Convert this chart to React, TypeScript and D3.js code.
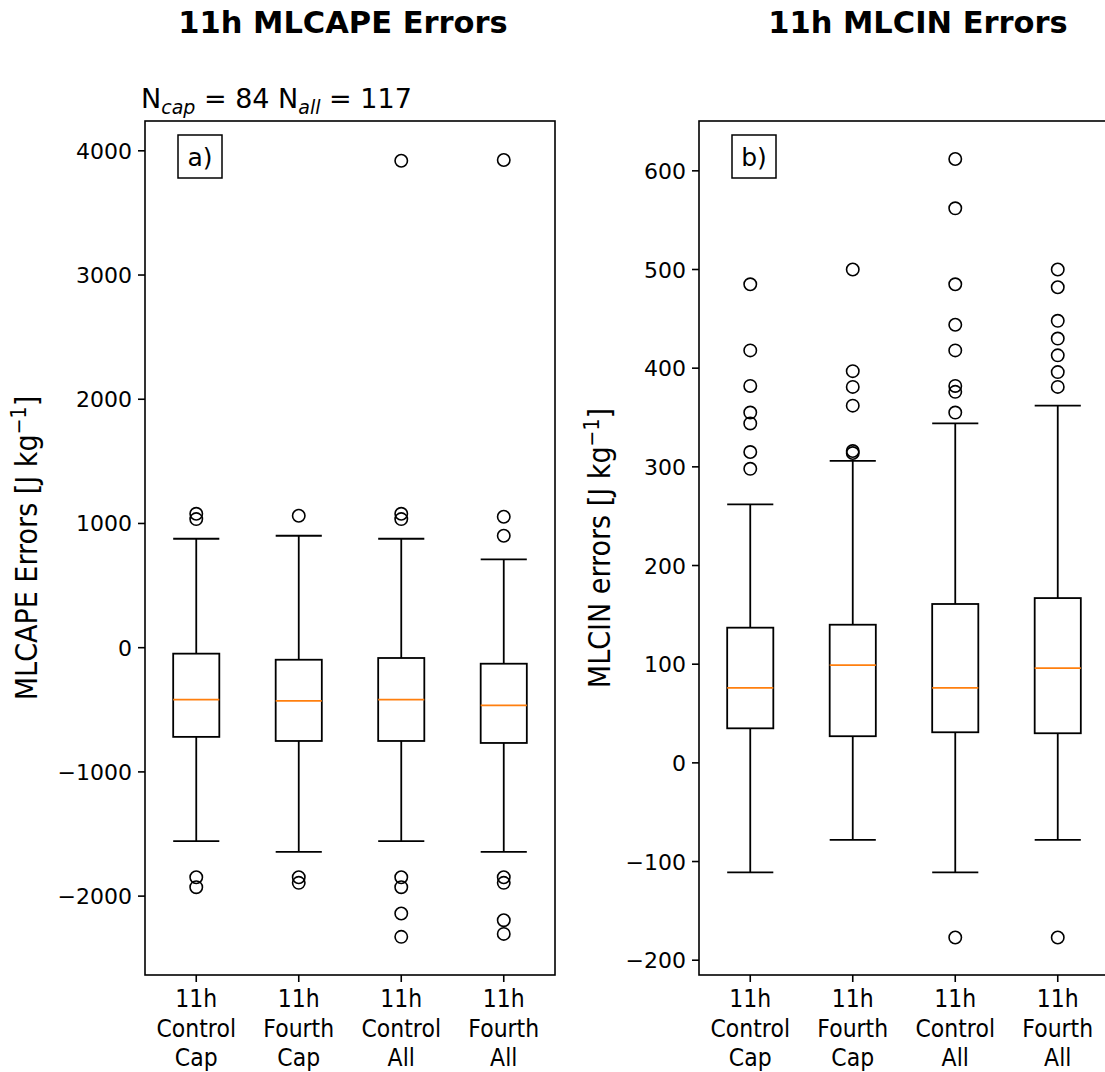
import React from "react";
import * as d3 from "d3";

// ---------- data ----------
const categories = [
  ["11h", "Control", "Cap"],
  ["11h", "Fourth", "Cap"],
  ["11h", "Control", "All"],
  ["11h", "Fourth", "All"],
];

// Panel a) MLCAPE
const capeQ1 = [-718, -751, -751, -767];
const capeMed = [-418, -429, -418, -464];
const capeQ3 = [-48, -97, -83, -129];
const capeLo = [-1558, -1644, -1558, -1644];
const capeHi = [877, 901, 877, 711];
const capeOut = [
  [1078, 1035, -1848, -1928],
  [1062, -1848, -1893],
  [3920, 1078, 1035, -1848, -1928, -2140, -2328],
  [3926, 1054, 901, -1848, -1893, -2194, -2304],
];
const capeTicks = [-2000, -1000, 0, 1000, 2000, 3000, 4000];

// Panel b) MLCIN
const cinQ1 = [35, 27, 31, 30];
const cinMed = [76, 99, 76, 96];
const cinQ3 = [137, 140, 161, 167];
const cinLo = [-111, -78, -111, -78];
const cinHi = [262, 306, 344, 362];
const cinOut = [
  [485, 418, 382, 355, 344, 315, 298],
  [500, 397, 381, 362, 316, 314],
  [612, 562, 485, 444, 418, 382, 376, 355, -177],
  [500, 482, 448, 430, 413, 396, 381, -177],
];
const cinTicks = [-200, -100, 0, 100, 200, 300, 400, 500, 600];

const FONT = "DejaVu Sans, Verdana, sans-serif";
const fmt = (v: number) => (v < 0 ? "\u2212" + Math.abs(v) : String(v));

type PanelProps = {
  left: number;
  domain: [number, number];
  q1: number[];
  med: number[];
  q3: number[];
  lo: number[];
  hi: number[];
  out: number[][];
  ticks: number[];
  tag: string;
  ylabel: string;
  ylabelX: number;
};

const TOP = 121;
const BOTTOM = 975;
const W = 410;

function Panel(p: PanelProps) {
  const x = d3
    .scaleLinear()
    .domain([0.5, 4.5])
    .range([p.left, p.left + W]);
  const y = d3.scaleLinear().domain(p.domain).range([BOTTOM, TOP]);
  const bw = x(1.45) - x(1);
  const capW = bw / 2;
  const idx = d3.range(categories.length);
  return (
    <g>
      {idx.map((i) => {
        const cx = x(i + 1);
        return (
          <g key={i} stroke="#000" strokeWidth={1.8} fill="none">
            <line x1={cx} x2={cx} y1={y(p.q3[i])} y2={y(p.hi[i])} />
            <line x1={cx} x2={cx} y1={y(p.q1[i])} y2={y(p.lo[i])} />
            <line x1={cx - capW} x2={cx + capW} y1={y(p.hi[i])} y2={y(p.hi[i])} />
            <line x1={cx - capW} x2={cx + capW} y1={y(p.lo[i])} y2={y(p.lo[i])} />
            <rect
              x={cx - bw / 2}
              y={y(p.q3[i])}
              width={bw}
              height={y(p.q1[i]) - y(p.q3[i])}
            />
            <line
              x1={cx - bw / 2}
              x2={cx + bw / 2}
              y1={y(p.med[i])}
              y2={y(p.med[i])}
              stroke="#ff7f0e"
            />
            {p.out[i].map((v, j) => (
              <circle key={j} cx={cx} cy={y(v)} r={6.2} strokeWidth={1.6} />
            ))}
          </g>
        );
      })}
      <rect
        x={p.left}
        y={TOP}
        width={W}
        height={BOTTOM - TOP}
        fill="none"
        stroke="#000"
        strokeWidth={1.6}
      />
      {p.ticks.map((t) => (
        <g key={t}>
          <line
            x1={p.left - 7}
            x2={p.left}
            y1={y(t)}
            y2={y(t)}
            stroke="#000"
            strokeWidth={1.6}
          />
          <text
            x={p.left - 13}
            y={y(t) + 8}
            textAnchor="end"
            fontSize={22}
            fontFamily={FONT}
            fill="#000"
          >
            {fmt(t)}
          </text>
        </g>
      ))}
      {idx.map((i) => (
        <g key={i}>
          <line
            x1={x(i + 1)}
            x2={x(i + 1)}
            y1={BOTTOM}
            y2={BOTTOM + 7}
            stroke="#000"
            strokeWidth={1.6}
          />
          {categories[i].map((s, k) => (
            <text
              key={k}
              transform={`translate(${x(i + 1)},${1007 + k * 29.5}) scale(1,1.12)`}
              textAnchor="middle"
              fontSize={22}
              fontFamily={FONT}
              fill="#000"
            >
              {s}
            </text>
          ))}
        </g>
      ))}
      <rect
        x={p.left + 33}
        y={135}
        width={44}
        height={43}
        fill="#fff"
        stroke="#000"
        strokeWidth={1.5}
      />
      <text
        x={p.left + 55}
        y={166}
        textAnchor="middle"
        fontSize={25}
        fontFamily={FONT}
        fill="#000"
      >
        {p.tag}
      </text>
      <text
        transform={`translate(${p.ylabelX},548) rotate(-90) scale(1,1.1)`}
        textAnchor="middle"
        fontSize={27}
        fontFamily={FONT}
        fill="#000"
      >
        {p.ylabel + " [J kg"}
        <tspan dy={-10} fontSize={19}>
          {"\u22121"}
        </tspan>
        <tspan dy={10}>]</tspan>
      </text>
    </g>
  );
}

export default function App() {
  return (
    <svg
      width={1105}
      height={1072}
      style={{ position: "absolute", left: 0, top: 0, background: "#fff" }}
    >
      <rect width={1105} height={1072} fill="#fff" />
      <text
        x={343}
        y={33}
        textAnchor="middle"
        fontSize={30.5}
        fontWeight="bold"
        fontFamily={FONT}
        fill="#000"
      >
        11h MLCAPE Errors
      </text>
      <text
        x={918}
        y={33}
        textAnchor="middle"
        fontSize={30.5}
        fontWeight="bold"
        fontFamily={FONT}
        fill="#000"
      >
        11h MLCIN Errors
      </text>
      <text x={141} y={108} fontSize={27} fontFamily={FONT} fill="#000">
        N
        <tspan dy={6} fontSize={19} fontStyle="italic">
          cap
        </tspan>
        <tspan dy={-6}>{" = 84 N"}</tspan>
        <tspan dy={6} fontSize={19} fontStyle="italic">
          all
        </tspan>
        <tspan dy={-6}>{" = 117"}</tspan>
      </text>
      <Panel
        left={145}
        domain={[-2635, 4240]}
        q1={capeQ1}
        med={capeMed}
        q3={capeQ3}
        lo={capeLo}
        hi={capeHi}
        out={capeOut}
        ticks={capeTicks}
        tag="a)"
        ylabel="MLCAPE Errors"
        ylabelX={37}
      />
      <Panel
        left={699}
        domain={[-215, 650.5]}
        q1={cinQ1}
        med={cinMed}
        q3={cinQ3}
        lo={cinLo}
        hi={cinHi}
        out={cinOut}
        ticks={cinTicks}
        tag="b)"
        ylabel="MLCIN errors"
        ylabelX={610}
      />
    </svg>
  );
}
